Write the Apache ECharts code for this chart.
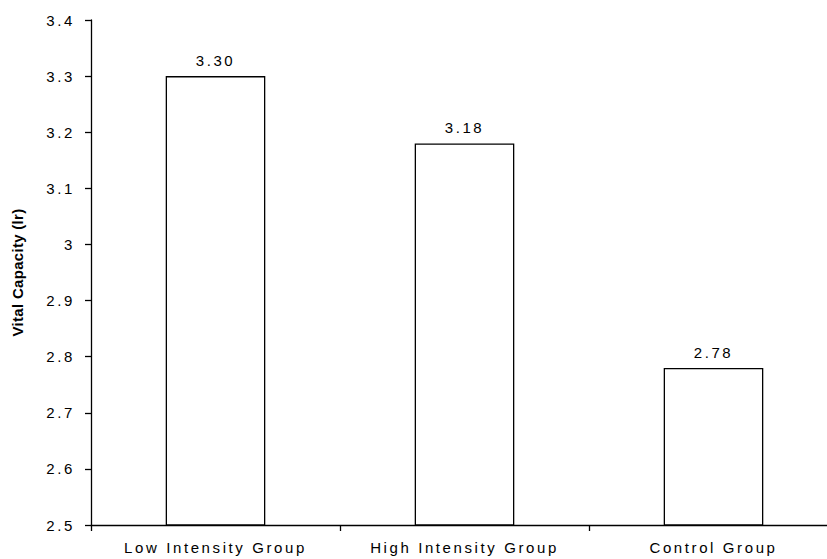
<!DOCTYPE html>
<html>
<head>
<meta charset="utf-8">
<script src="https://cdn.jsdelivr.net/npm/echarts@6/dist/echarts.min.js"></script>
<style>
  html, body { margin: 0; padding: 0; background: #fff; }
  #chart { width: 827px; height: 559px; }
  #chart svg text { letter-spacing: 2.6px; }
  #chart svg text[style*="bold"] { letter-spacing: 0.3px; }
</style>
</head>
<body>
<div id="chart"></div>
<script>
const categories = ['Low Intensity Group', 'High Intensity Group', 'Control Group'];
const values = [3.30, 3.18, 2.78];
const yAxisName = 'Vital Capacity (lr)';
const yMin = 2.5, yMax = 3.4, yStep = 0.1;

const chart = echarts.init(document.getElementById('chart'), null, { renderer: 'svg' });
const font = 'Liberation Sans, Arial, sans-serif';
chart.setOption({
  animation: false,
  grid: { left: 91, right: -11, top: 20, bottom: 34, containLabel: false, outerBoundsMode: 'none' },
  xAxis: {
    type: 'category',
    data: categories,
    boundaryGap: true,
    axisLine: { lineStyle: { color: '#000', width: 1.3 } },
    axisTick: { show: true, alignWithLabel: false, length: 6, lineStyle: { color: '#000', width: 1.3 } },
    axisLabel: { color: '#000', fontSize: 15, fontFamily: font, margin: 15, interval: 0 },
    splitLine: { show: false }
  },
  yAxis: {
    type: 'value',
    min: yMin, max: yMax, interval: yStep,
    name: yAxisName,
    nameLocation: 'middle',
    nameGap: 66,
    nameRotate: 90,
    nameTextStyle: { color: '#000', fontSize: 15, fontWeight: 'bold', fontFamily: font },
    axisLine: { show: true, lineStyle: { color: '#000', width: 1.3 } },
    axisTick: { show: true, length: 6, lineStyle: { color: '#000', width: 1.3 } },
    axisLabel: { color: '#000', fontSize: 15, fontFamily: font, margin: 16 },
    splitLine: { show: false }
  },
  series: [{
    type: 'bar',
    data: values,
    barWidth: '40%',
    itemStyle: { color: '#fff', borderColor: '#000', borderWidth: 1.3 },
    label: {
      show: true, position: 'top', distance: 8,
      color: '#000', fontSize: 15, fontFamily: font,
      formatter: p => p.value.toFixed(2)
    }
  }]
});
</script>
</body>
</html>
